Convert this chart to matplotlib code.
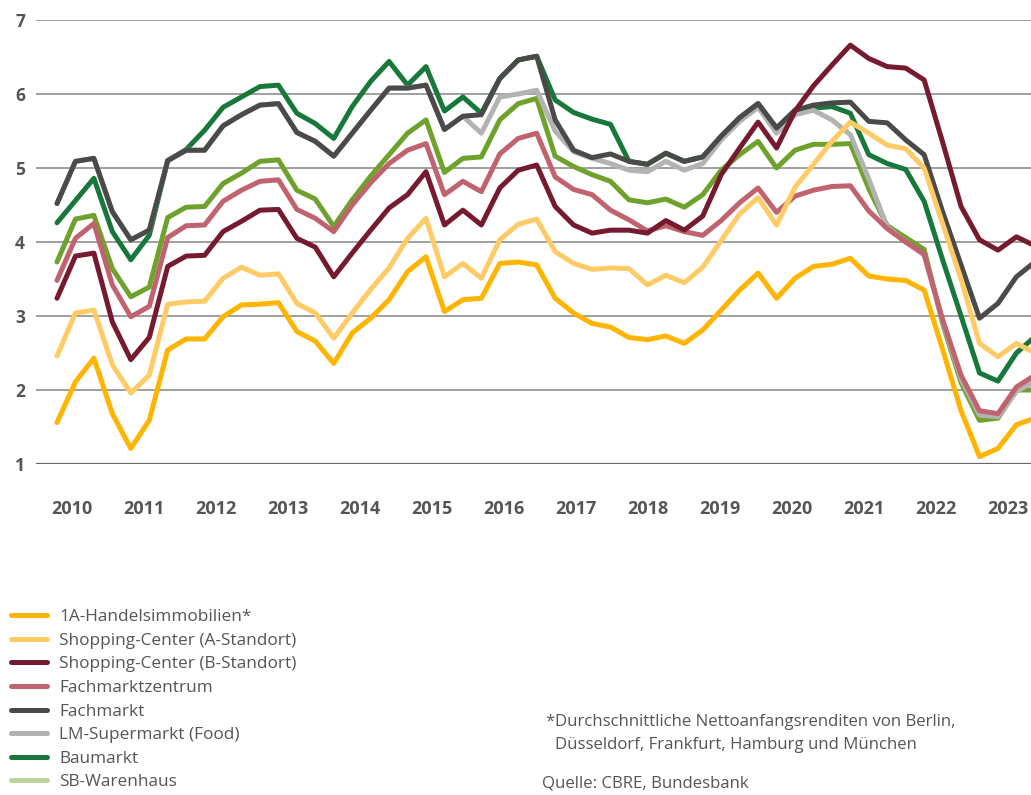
import matplotlib
matplotlib.use('Agg')
import matplotlib.pyplot as plt
from matplotlib.lines import Line2D
import numpy as np

# quarterly values, 2010 Q1 .. 2023 Q2 (last point is cut by the right edge)
quarters = [f'{y} Q{q}' for y in range(2010, 2024) for q in range(1, 5)][:54]
years = [str(y) for y in range(2010, 2024)]

handel_1a = [1.56, 2.11, 2.43, 1.68, 1.21, 1.59, 2.54, 2.69, 2.69, 2.99, 3.15, 3.16, 3.18, 2.79,
             2.66, 2.36, 2.77, 2.97, 3.22, 3.60, 3.80, 3.06, 3.22, 3.24, 3.71, 3.73, 3.69, 3.24,
             3.04, 2.90, 2.85, 2.71, 2.68, 2.73, 2.63, 2.81, 3.08, 3.35, 3.58, 3.24, 3.51, 3.67,
             3.70, 3.78, 3.54, 3.50, 3.48, 3.35, 2.55, 1.72, 1.10, 1.21, 1.53, 1.62]
shop_a = [2.46, 3.04, 3.08, 2.34, 1.96, 2.20, 3.16, 3.19, 3.20, 3.51, 3.66, 3.55, 3.57, 3.17,
          3.04, 2.70, 3.04, 3.36, 3.65, 4.05, 4.32, 3.53, 3.71, 3.51, 4.03, 4.24, 4.31, 3.87,
          3.71, 3.63, 3.65, 3.64, 3.42, 3.55, 3.45, 3.66, 4.02, 4.38, 4.60, 4.23, 4.74, 5.05,
          5.36, 5.62, 5.47, 5.31, 5.26, 5.00, 4.25, 3.50, 2.63, 2.45, 2.63, 2.50]
shop_b = [3.24, 3.81, 3.85, 2.92, 2.41, 2.71, 3.67, 3.81, 3.82, 4.14, 4.28, 4.43, 4.44, 4.05,
          3.93, 3.53, 3.85, 4.16, 4.46, 4.64, 4.95, 4.23, 4.43, 4.23, 4.73, 4.97, 5.04, 4.48,
          4.23, 4.12, 4.16, 4.16, 4.12, 4.29, 4.16, 4.35, 4.91, 5.27, 5.62, 5.27, 5.77, 6.11,
          6.39, 6.66, 6.48, 6.37, 6.35, 6.19, 5.35, 4.48, 4.03, 3.89, 4.07, 3.95]
fmz = [3.48, 4.05, 4.25, 3.42, 2.99, 3.13, 4.06, 4.22, 4.23, 4.55, 4.70, 4.82, 4.84, 4.44,
       4.32, 4.14, 4.50, 4.80, 5.06, 5.24, 5.33, 4.64, 4.82, 4.68, 5.19, 5.40, 5.47, 4.88,
       4.71, 4.64, 4.43, 4.30, 4.15, 4.22, 4.14, 4.09, 4.29, 4.53, 4.73, 4.40, 4.62, 4.70,
       4.75, 4.76, 4.42, 4.18, 4.00, 3.84, 2.95, 2.20, 1.72, 1.68, 2.04, 2.20]
fachmarkt = [4.52, 5.09, 5.13, 4.41, 4.03, 4.16, 5.10, 5.24, 5.24, 5.57, 5.72, 5.85, 5.87, 5.48,
             5.36, 5.16, 5.47, 5.78, 6.08, 6.08, 6.12, 5.52, 5.70, 5.72, 6.21, 6.46, 6.51, 5.65,
             5.24, 5.14, 5.19, 5.09, 5.05, 5.20, 5.09, 5.15, 5.43, 5.68, 5.87, 5.54, 5.78, 5.85,
             5.88, 5.89, 5.63, 5.61, 5.38, 5.18, 4.41, 3.69, 2.97, 3.17, 3.53, 3.73]
lm_supermarkt = [4.52, 5.09, 5.13, 4.41, 4.03, 4.16, 5.10, 5.24, 5.24, 5.57, 5.72, 5.85, 5.87, 5.48,
                 5.36, 5.16, 5.47, 5.78, 6.08, 6.08, 6.12, 5.52, 5.70, 5.47, 5.96, 6.00, 6.05, 5.50,
                 5.22, 5.13, 5.06, 4.97, 4.95, 5.09, 4.97, 5.06, 5.38, 5.63, 5.82, 5.47, 5.72, 5.78,
                 5.65, 5.45, 4.85, 4.20, 4.00, 3.82, 2.93, 2.15, 1.66, 1.64, 1.98, 2.12]
baumarkt = [4.26, 4.56, 4.86, 4.14, 3.76, 4.09, 5.10, 5.25, 5.51, 5.82, 5.96, 6.10, 6.12, 5.74,
            5.60, 5.40, 5.83, 6.17, 6.44, 6.12, 6.37, 5.77, 5.96, 5.74, 6.21, 6.46, 6.51, 5.92,
            5.75, 5.66, 5.59, 5.09, 5.05, 5.20, 5.09, 5.15, 5.43, 5.68, 5.87, 5.54, 5.78, 5.81,
            5.83, 5.74, 5.18, 5.06, 4.98, 4.55, 3.76, 3.00, 2.23, 2.12, 2.50, 2.72]
sb_warenhaus = [3.73, 4.31, 4.36, 3.64, 3.26, 3.39, 4.33, 4.47, 4.48, 4.79, 4.93, 5.09, 5.11, 4.70,
                4.58, 4.21, 4.57, 4.89, 5.18, 5.47, 5.65, 4.94, 5.13, 5.15, 5.65, 5.87, 5.94, 5.16,
                5.02, 4.91, 4.82, 4.57, 4.53, 4.58, 4.47, 4.64, 4.97, 5.18, 5.36, 5.00, 5.24, 5.32,
                5.32, 5.33, 4.72, 4.22, 4.06, 3.90, 2.90, 2.10, 1.59, 1.62, 2.00, 2.00]

labels = ['1A-Handelsimmobilien*', 'Shopping-Center (A-Standort)', 'Shopping-Center (B-Standort)',
          'Fachmarktzentrum', 'Fachmarkt', 'LM-Supermarkt (Food)', 'Baumarkt', 'SB-Warenhaus']
series = [handel_1a, shop_a, shop_b, fmz, fachmarkt, lm_supermarkt, baumarkt, sb_warenhaus]
colors = ['#FFB400', '#FFCB66', '#761A30', '#C0636F', '#4A4A48', '#B3B3B3', '#18783B', '#6EA22C']
legend_colors = colors[:7] + ['#BCD39B']

plt.rcParams['font.family'] = ['Open Sans', 'DejaVu Sans']
grey = '#555555'

fig = plt.figure(figsize=(10.31, 7.95), dpi=100)
ax = fig.add_axes([36 / 1031, 331 / 795, 1 - 36 / 1031, 444 / 795])

x = np.arange(len(quarters))
# later series are drawn underneath, as in the original
for i, (vals, c) in enumerate(zip(series, colors)):
    ax.plot(x, vals, color=c, lw=3.6, solid_joinstyle='round', solid_capstyle='round',
            zorder=10 - i)

for v in range(2, 8):
    ax.axhline(v, color='#8f8f8f', lw=1.2, zorder=1)
ax.axhline(1, color='#6a6a6a', lw=1.6, zorder=1)

ax.set_ylim(1, 7)
ax.set_xlim(-21 / 18.45, 974 / 18.45)
for s in ax.spines.values():
    s.set_visible(False)

ax.set_yticks(range(1, 8))
ax.set_yticklabels([str(v) for v in range(1, 8)])
ax.set_xticks(np.linspace(0.8, 51.55, len(years)))
ax.set_xticklabels(years)
ax.tick_params(axis='y', length=0, pad=8, labelsize=12.5, labelcolor=grey)
ax.tick_params(axis='x', length=0, pad=26, labelsize=13, labelcolor=grey)
for t in ax.get_xticklabels() + ax.get_yticklabels():
    t.set_fontweight('bold')

handles = [Line2D([], [], color=c, lw=3.6, solid_capstyle='round') for c in legend_colors]
fig.legend(handles, labels, loc='upper left', bbox_to_anchor=(11 / 1031, 1 - 609 / 795),
           frameon=False, fontsize=12.4, labelcolor=grey, handlelength=2.1,
           handletextpad=0.7, labelspacing=0.44, borderpad=0, borderaxespad=0)

fs_note = 12.1
fig.text(545 / 1031, 1 - 722 / 795, '*', fontsize=fs_note, color=grey, va='center')
fig.text(555 / 1031, 1 - 722 / 795, 'Durchschnittliche Nettoanfangsrenditen von Berlin,',
         fontsize=fs_note, color=grey, va='center')
fig.text(555 / 1031, 1 - 745 / 795, 'Düsseldorf, Frankfurt, Hamburg und München',
         fontsize=fs_note, color=grey, va='center')
fig.text(542 / 1031, 1 - 783 / 795, 'Quelle: CBRE, Bundesbank', fontsize=fs_note, color=grey,
         va='center')

fig.savefig('out.png', dpi=100, facecolor='white')
